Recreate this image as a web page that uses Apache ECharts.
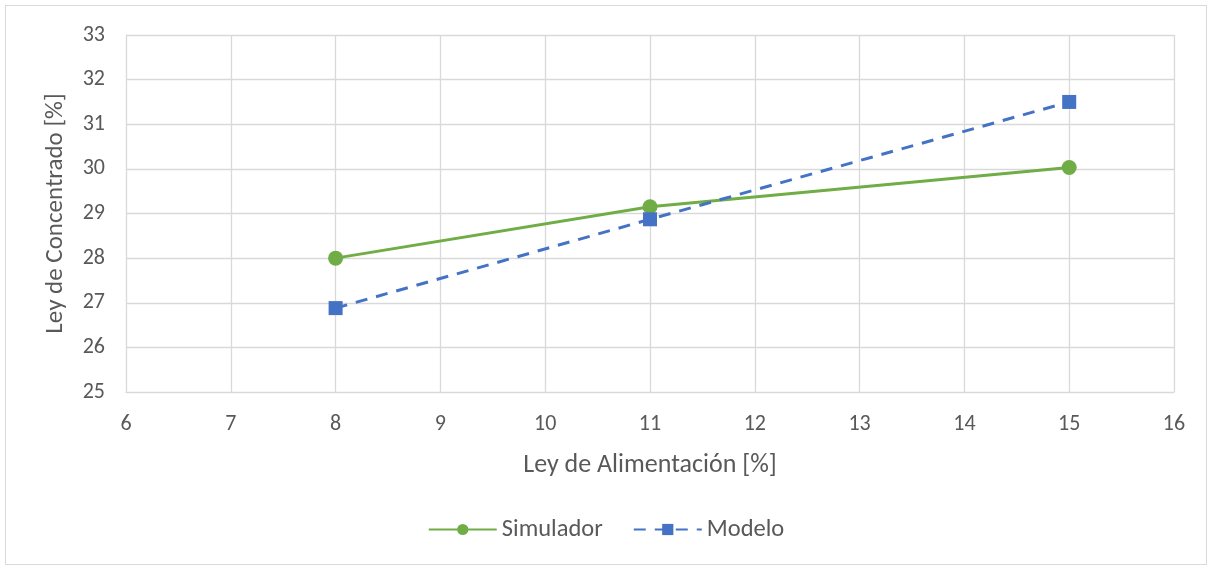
<!DOCTYPE html>
<html>
<head>
<meta charset="utf-8">
<script src="https://cdn.jsdelivr.net/npm/echarts@6/dist/echarts.min.js"></script>
<style>
html,body{margin:0;padding:0;background:#fff;}
#frame{position:absolute;left:5px;top:5px;width:1202px;height:560px;border:1px solid #D9D9D9;box-sizing:border-box;}
#chart{position:absolute;left:0;top:0;width:1212px;height:569px;}
</style>
</head>
<body>
<div id="frame"></div>
<div id="chart"></div>
<script>
const seriesNames = ['Simulador', 'Modelo'];
const xValues = [8, 11, 15];
const simulador = [28.0, 29.15, 30.03];
const modelo = [26.88, 28.87, 31.5];
const xAxisTitle = 'Ley de Alimentación [%]';
const yAxisTitle = 'Ley de Concentrado [%]';

const chart = echarts.init(document.getElementById('chart'));
const font = 'Calibri, Carlito, "Liberation Sans", "Open Sans", sans-serif';
const txt = '#595959';
chart.setOption({
  animation: false,
  textStyle: {fontFamily: font},
  grid: {left: 126, right: 38, top: 35, bottom: 177},
  legend: {
    bottom: 22, left: 'center',
    itemWidth: 68, itemHeight: 14, itemGap: 30,
    textStyle: {color: txt, fontSize: 24.5, fontFamily: font},
    data: seriesNames
  },
  xAxis: {
    type: 'value', min: 6, max: 16, interval: 1,
    name: xAxisTitle, nameLocation: 'middle', nameGap: 60,
    nameTextStyle: {color: txt, fontSize: 26, fontFamily: font},
    axisLine: {show: true, lineStyle: {color: '#D9D9D9'}},
    axisTick: {show: false},
    axisLabel: {color: txt, fontSize: 22, margin: 21, fontFamily: font},
    splitLine: {show: true, lineStyle: {color: '#D9D9D9', width: 1.3}}
  },
  yAxis: {
    type: 'value', min: 25, max: 33, interval: 1,
    name: yAxisTitle, nameLocation: 'middle', nameGap: 58,
    nameTextStyle: {color: txt, fontSize: 25, fontFamily: font},
    axisLine: {show: true, lineStyle: {color: '#D9D9D9'}},
    axisTick: {show: false},
    axisLabel: {color: txt, fontSize: 22, margin: 21, fontFamily: font},
    splitLine: {show: true, lineStyle: {color: '#D9D9D9', width: 1.3}}
  },
  series: [
    {
      name: seriesNames[0], type: 'line',
      data: xValues.map((x, i) => [x, simulador[i]]),
      symbol: 'circle', symbolSize: 15,
      itemStyle: {color: '#70AD47'},
      lineStyle: {color: '#70AD47', width: 3}
    },
    {
      name: seriesNames[1], type: 'line',
      data: xValues.map((x, i) => [x, modelo[i]]),
      symbol: 'rect', symbolSize: 14,
      itemStyle: {color: '#4472C4'},
      lineStyle: {color: '#4472C4', width: 3, type: [12, 9]}
    }
  ]
});
</script>
</body>
</html>
